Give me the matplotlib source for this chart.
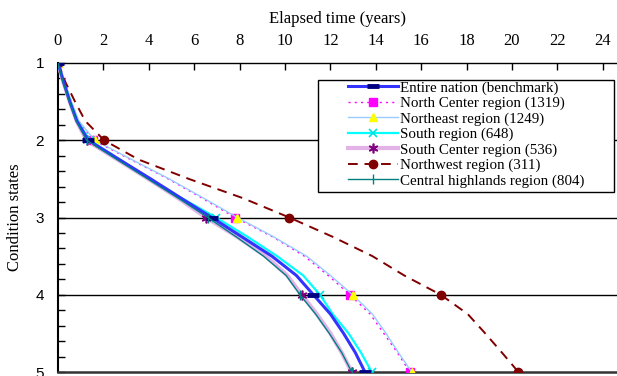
import matplotlib
matplotlib.use("Agg")
import matplotlib.pyplot as plt
from matplotlib.ticker import MultipleLocator
from matplotlib.patches import Rectangle
from matplotlib.legend_handler import HandlerLine2D

# Condition states (y) and elapsed time in years (x) for each region
states = [1, 1.25, 1.5, 1.75, 2, 2.25, 2.5, 2.75, 3, 3.25, 3.5, 3.75, 4, 4.25, 4.5, 4.75, 5]

nation = [0, 0.25, 0.52, 0.83, 1.33, 2.7, 4.08, 5.42, 6.77, 8.1, 9.42, 10.5, 11.25, 12.0, 12.58, 13.1, 13.52]
north_center = [0, 0.28, 0.58, 0.9, 1.56, 3.2, 4.85, 6.35, 7.8, 9.45, 10.85, 11.9, 12.86, 13.75, 14.35, 14.95, 15.5]
northeast = [0, 0.28, 0.58, 0.92, 1.62, 3.25, 4.9, 6.42, 7.9, 9.5, 10.95, 12.0, 12.98, 13.85, 14.45, 15.0, 15.58]
south = [0, 0.27, 0.55, 0.85, 1.4, 2.72, 4.05, 5.45, 6.96, 8.35, 9.65, 10.8, 11.54, 12.1, 12.8, 13.35, 13.82]
south_center = [0, 0.24, 0.52, 0.82, 1.26, 2.62, 3.98, 5.3, 6.52, 7.9, 9.15, 10.1, 10.73, 11.4, 12.0, 12.5, 12.94]
northwest = [0, 0.33, 0.75, 1.2, 2.03, 3.55, 5.76, 8.15, 10.19, 12.1, 13.85, 15.25, 16.86, 18.05, 18.82, 19.56, 20.28]
highlands = [0, 0.22, 0.5, 0.8, 1.26, 2.6, 3.95, 5.3, 6.6, 7.85, 9.05, 10.05, 10.66, 11.35, 11.95, 12.5, 12.94]

labels = ["Entire nation (benchmark)", "North Center region (1319)", "Northeast region (1249)",
          "South region (648)", "South Center region (536)", "Northwest region (311)",
          "Central highlands region (804)"]

# markers only at whole condition states
marks = [0, 4, 8, 12, 16]

serif = "Liberation Serif"


# legend line that leaves a blank gap on its left, like the spreadsheet legend
class ShortLine(HandlerLine2D):
    def create_artists(self, legend, orig_handle, xdescent, ydescent, width, height, fontsize, trans):
        gap = width * 0.36
        return super().create_artists(legend, orig_handle, xdescent - gap, ydescent,
                                      width - gap, height, fontsize, trans)


fig = plt.figure(figsize=(6.17, 3.76), dpi=100)
ax = fig.add_axes([58/617, 1-372/376, 1-58/617, (372-63)/376])

ax.plot(nation, states, color="#3333ff", lw=2.2, marker="_", ms=8, mew=3.5,
        mec="#000080", markevery=marks, label=labels[0], zorder=5)
ax.plot(north_center, states, color="#ff00ff", lw=1, ls=(0, (1.5, 3)), marker="s", ms=5.5,
        mfc="#ff00ff", mec="#ff00ff", markevery=marks, label=labels[1], zorder=4)
ax.plot(northeast, states, color="#99ccff", lw=1, marker="^", ms=6,
        mfc="#ffff00", mec="#ffff00", markevery=marks, label=labels[2], zorder=4)
ax.plot(south, states, color="#00ffff", lw=1.6, marker="x", ms=6, mew=1.2,
        mec="#00e0e0", markevery=marks, label=labels[3], zorder=4)
ax.plot(south_center, states, color="#e3b3e8", lw=3, marker=(6, 2, 0), ms=7, mew=1.2,
        mec="#800080", markevery=marks, label=labels[4], zorder=3)
ax.plot(northwest, states, color="#800000", lw=1.4, ls=(0, (5, 3.5)), marker="o", ms=6,
        mfc="#800000", mec="#800000", markevery=marks, label=labels[5], zorder=4)
ax.plot(highlands, states, color="#008080", lw=1, marker="|", ms=7, mew=1,
        mec="#008080", markevery=marks, label=labels[6], zorder=6)

# axes setup
ax.set_xlim(0, (617-58)/22.7)
ax.set_ylim(5, 1)
ax.xaxis.tick_top()
ax.xaxis.set_label_position("top")
ax.xaxis.set_major_locator(MultipleLocator(2))
ax.yaxis.set_major_locator(MultipleLocator(1))
ax.yaxis.set_minor_locator(MultipleLocator(0.2))
ax.tick_params(axis="x", direction="in", length=5, width=1, pad=10, labelsize=12)
ax.tick_params(axis="y", which="both", direction="in", length=5, width=1, pad=10, labelsize=11)
for t in ax.get_xticklabels():
    t.set_fontfamily(serif)
for t in ax.get_yticklabels():
    t.set_fontfamily("Liberation Sans")

ax.set_xlabel("Elapsed time (years)", fontsize=12, fontfamily=serif, labelpad=7)
ax.set_ylabel("Condition states", fontsize=12, fontfamily=serif, labelpad=9)

for y in [2, 3, 4]:
    ax.axhline(y, color="black", lw=1, zorder=1)

ax.spines["right"].set_visible(False)
ax.spines["left"].set_linewidth(1.5)
ax.spines["bottom"].set_linewidth(1.8)
ax.spines["bottom"].set_color("#333333")
ax.spines["top"].set_linewidth(1)

# legend box drawn separately so it keeps the wide right margin of the original
box = Rectangle((0.4651, 0.5825), 0.5295, 0.3625, transform=ax.transAxes,
                facecolor="white", edgecolor="black", lw=1, zorder=7)
ax.add_patch(box)
leg = ax.legend(loc="upper left", bbox_to_anchor=(0.4687, 0.9417), frameon=False,
                prop={"family": serif, "size": 10.8},
                handlelength=5.2, handletextpad=0.15, labelspacing=0.12, borderpad=0,
                borderaxespad=0, handler_map={plt.Line2D: ShortLine()})
leg.set_zorder(8)

fig.savefig("out.png", dpi=100)
